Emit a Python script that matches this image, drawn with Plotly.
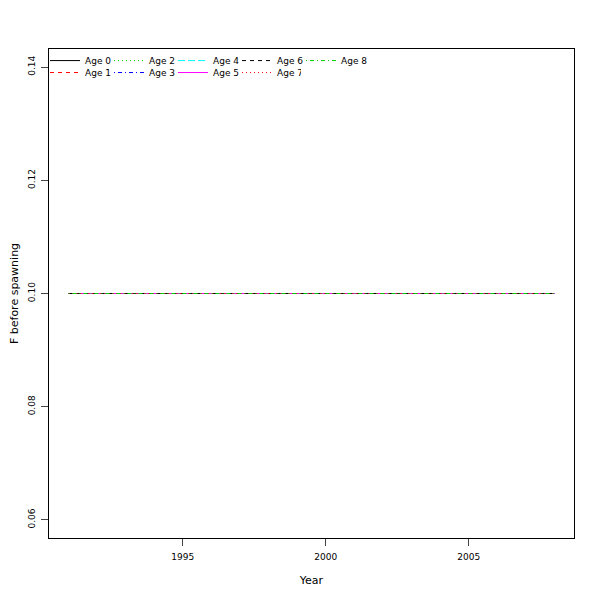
import plotly.graph_objects as go

years = list(range(1991, 2009))
ages = ["Age 0", "Age 1", "Age 2", "Age 3", "Age 4", "Age 5", "Age 6", "Age 7", "Age 8"]
f_values = {
    "Age 0": [0.1] * 18,
    "Age 1": [0.1] * 18,
    "Age 2": [0.1] * 18,
    "Age 3": [0.1] * 18,
    "Age 4": [0.1] * 18,
    "Age 5": [0.1] * 18,
    "Age 6": [0.1] * 18,
    "Age 7": [0.1] * 18,
    "Age 8": [0.1] * 18,
}
y_ticks = [0.06, 0.08, 0.10, 0.12, 0.14]
y_ticklabels = ["0.06", "0.08", "0.10", "0.12", "0.14"]
x_ticks = [1995, 2000, 2005]

colors = ["rgb(0,0,0)", "rgb(255,0,0)", "rgb(0,205,0)", "rgb(0,0,255)", "rgb(0,255,255)", "rgb(255,0,255)"]
dashes = ["solid", "4px,4px", "1px,3px", "1px,3px,4px,3px", "7px,3px"]

fig = go.Figure()
for i, age in enumerate(ages):
    fig.add_trace(go.Scatter(
        x=years, y=f_values[age], mode="lines", name=age,
        line=dict(color=colors[i % 6], width=1, dash=dashes[i % 5]),
        legend="legend" if i % 2 == 0 else "legend2",
    ))

# invisible spacer entries so the last legend label in each row is not clipped
for leg in ["legend", "legend2", "legend2"]:
    fig.add_trace(go.Scatter(x=[None], y=[None], mode="lines", name=" ",
                             line=dict(color="rgba(0,0,0,0)", width=0),
                             legend=leg, hoverinfo="skip"))

font = dict(family="DejaVu Sans", size=9, color="black")
leg_common = dict(orientation="h", x=-0.0076, xanchor="left", yanchor="top",
                  bgcolor="rgba(0,0,0,0)", entrywidth=19, entrywidthmode="pixels",
                  font=font, itemwidth=30, tracegroupgap=0, itemclick=False,
                  itemdoubleclick=False)

fig.update_layout(
    width=600, height=600,
    margin=dict(l=41, r=34, t=41, b=70, autoexpand=False),
    paper_bgcolor="white", plot_bgcolor="white",
    font=font,
    showlegend=True,
    legend=dict(**leg_common, y=1.006),
    legend2=dict(**leg_common, y=0.9815),
    xaxis=dict(range=[1990.32, 2008.68], tickvals=x_ticks, ticks="outside", ticklen=7,
               ticklabelstandoff=3,
               showline=True, linecolor="black", linewidth=1, mirror=True, automargin=False,
               showgrid=False, zeroline=False, title=dict(text="Year", standoff=15),
               tickfont=font),
    yaxis=dict(range=[0.0568, 0.1432], tickvals=y_ticks, ticktext=y_ticklabels,
               ticks="outside", ticklen=7, tickangle=-90, automargin=True,
               ticklabelstandoff=2,
               showline=True, linecolor="black", linewidth=1, mirror=True,
               showgrid=False, zeroline=False,
               title=dict(text="F before spawning", standoff=16), tickfont=font),
)
fig.write_html("out.html")
